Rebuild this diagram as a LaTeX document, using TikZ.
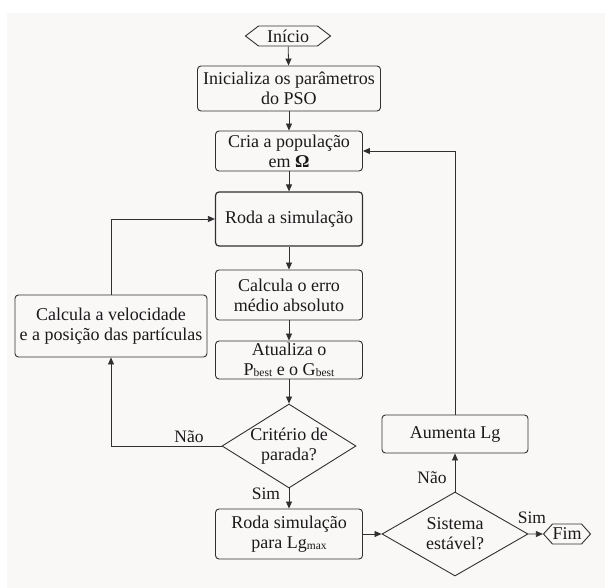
\documentclass[tikz,border=0pt]{standalone}
\usepackage{fontspec}
\setmainfont{Liberation Serif}
\usetikzlibrary{arrows.meta,shapes.geometric,shapes.symbols}
\definecolor{panel}{HTML}{FAF7F7}
\definecolor{linec}{HTML}{303030}
\definecolor{txt}{HTML}{1A1A1A}
\newcommand{\sbs}[1]{\raisebox{-1.2pt}{\fontsize{11.5}{11.5}\selectfont #1}}
\tikzset{
  base/.style={draw=linec, line width=0.9pt, text=txt, inner sep=0pt, align=center,
    font=\fontsize{18}{20}\selectfont},
  procbox/.style={base, rectangle, rounded corners=3.5pt},
  decbox/.style={base, diamond},
  termbox/.style={base, signal, signal to=west and east},
  dtext/.style={text=txt, inner sep=0pt, align=center, font=\fontsize{18}{20}\selectfont},
  lbl/.style={text=txt, inner sep=0pt, font=\fontsize{17.5}{17.5}\selectfont},
  flow/.style={draw=linec, line width=0.8pt, -{Triangle[length=7pt,width=6pt]}}
}
\begin{document}
\begin{tikzpicture}[x=1pt,y=-1pt]
\useasboundingbox (0,0) rectangle (605,588);
\fill[white] (0,0) rectangle (605,588);
\fill[panel] (7,13) rectangle (605,588);

\node[termbox, signal pointer angle=75, minimum width=85pt, minimum height=20pt] (inicio) at (288,36) {Início};
\node[procbox, minimum width=183pt, minimum height=45pt] (init) at (289,88.5) {Inicializa os parâmetros\\do PSO};
\node[procbox, minimum width=147pt, minimum height=40pt] (cria) at (289,151) {Cria a população\\em \textbf{Ω}};
\node[procbox, line width=1.2pt, minimum width=147pt, minimum height=54pt] (roda) at (289,219) {Roda a simulação};
\node[procbox, minimum width=147pt, minimum height=50pt] (erro) at (289,295) {Calcula o erro\\médio absoluto};
\node[procbox, minimum width=147pt, minimum height=38pt] (atual) at (289,360) {Atualiza o\\P\sbs{best} e o G\sbs{best}};
\node[decbox, minimum width=134pt, minimum height=84pt] (crit) at (289,446) {};
\node[dtext] (critT) at (289,446) {Critério de\\parada?};
\node[procbox, minimum width=147pt, minimum height=50pt] (rodamax) at (289,534) {Roda simulação\\para Lg\sbs{max}};
\node[procbox, minimum width=192pt, minimum height=62pt] (vel) at (111,326) {Calcula a velocidade\\e a posição das partículas};
\node[procbox, minimum width=146pt, minimum height=38pt] (aum) at (455,434) {Aumenta Lg};
\node[decbox, minimum width=146pt, minimum height=84pt] (sist) at (455,534) {};
\node[dtext] (sistT) at (455,534) {Sistema\\estável?};
\node[termbox, signal pointer angle=96, minimum width=38pt, minimum height=20pt] (fim) at (567,534) {Fim};

\draw[flow] (inicio) -- (init);
\draw[flow] (init) -- (cria);
\draw[flow] (cria) -- (roda);
\draw[flow] (roda) -- (erro);
\draw[flow] (erro) -- (atual);
\draw[flow] (atual) -- (crit);
\draw[flow] (crit) -- (rodamax);
\draw[flow] (crit.west) -| (vel.south);
\draw[flow] (vel.north) |- (roda.west);
\draw[flow] (rodamax) -- (sist);
\draw[flow] (sist) -- (aum);
\draw[flow] (aum.north) |- (cria.east);
\draw[flow] (sist) -- (fim);

\node[lbl] (l1) at (189,437) {Não};
\node[lbl] (l2) at (266,494) {Sim};
\node[lbl] (l3) at (432,478) {Não};
\node[lbl] (l4) at (532,518) {Sim};
\end{tikzpicture}
\end{document}
